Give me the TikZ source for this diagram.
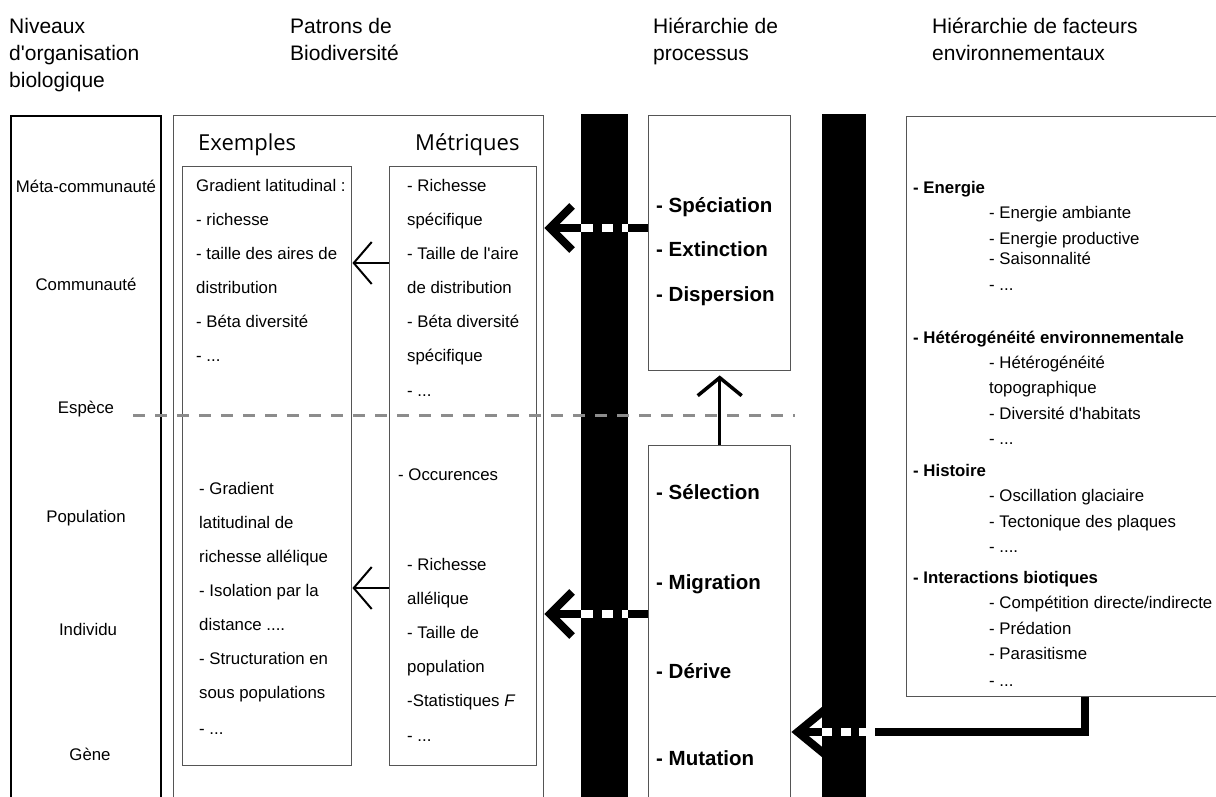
\documentclass[tikz,border=0pt]{standalone}
\usepackage{fontspec}
\setmainfont{Liberation Sans}[Ligatures=TeXOff]
\newfontfamily\hfont{Open Sans}
\usetikzlibrary{arrows.meta}
\definecolor{boxgrey}{HTML}{555555}
\definecolor{dashgrey}{HTML}{8C8C8C}
\tikzset{
  txt/.style={font=\fontsize{16.8}{20}\selectfont, inner sep=0pt, anchor=base west},
  ctxt/.style={font=\fontsize{16.8}{20}\selectfont, inner sep=0pt, anchor=base},
  btxt/.style={font=\fontsize{16.8}{20}\selectfont\bfseries, inner sep=0pt, anchor=base west},
  ptxt/.style={font=\fontsize{20.5}{24}\selectfont\bfseries, inner sep=0pt, anchor=base west},
  htxt/.style={font=\fontsize{21}{27}\selectfont, inner sep=0pt, anchor=base west},
  coltitle/.style={font=\hfont\fontsize{22}{26}\selectfont, inner sep=0pt, anchor=base west},
  box/.style={draw=boxgrey, line width=1.4pt, anchor=north west, inner sep=0pt},
  bar/.style={fill=black, draw=none, anchor=north west, inner sep=0pt},
  fatarrow/.style={line width=8pt, -{Straight Barb[length=22pt,width=44pt]}},
  thinarrow/.style={line width=2pt, -{Straight Barb[length=18pt,width=42pt]}},
  whitedash/.style={draw=white, line width=8pt},
}
\begin{document}
\begin{tikzpicture}[x=1pt,y=-1pt]
\useasboundingbox (0,0) rectangle (1216,796);
% boxes
\node[box, draw=black, line width=2pt, minimum width=150pt, minimum height=720pt] (lev) at (10,115) {};
\node[box, minimum width=370pt, minimum height=720pt] (pat) at (173,115) {};
\node[box, minimum width=169pt, minimum height=599pt] (exU) at (182,166) {};
\node[box, minimum width=147pt, minimum height=599pt] (met) at (389,166) {};
\node[bar, minimum width=47pt, minimum height=720pt] (bar1) at (581,114) {};
\node[box, minimum width=142pt, minimum height=255pt] (procU) at (648,115) {};
\node[box, minimum width=142pt, minimum height=400pt] (procL) at (648,445) {};
\node[bar, minimum width=44pt, minimum height=720pt] (bar2) at (822,114) {};
\node[box, minimum width=400pt, minimum height=580pt] (env) at (906,116) {};

% headers
\node[htxt] (h1a) at (9,33) {Niveaux};
\node[htxt] (h1b) at (9,60) {d'organisation};
\node[htxt] (h1c) at (9,87) {biologique};
\node[htxt] (h2a) at (290,33) {Patrons de};
\node[htxt] (h2b) at (290,60) {Biodiversité};
\node[htxt] (h3a) at (653,33) {Hiérarchie de};
\node[htxt] (h3b) at (653,60) {processus};
\node[htxt] (h4a) at (932,33) {Hiérarchie de facteurs};
\node[htxt] (h4b) at (932,60) {environnementaux};

% levels
\node[ctxt] (l1) at (86,192) {Méta-communauté};
\node[ctxt] (l2) at (86,290) {Communauté};
\node[ctxt] (l3) at (86,413) {Espèce};
\node[ctxt] (l4) at (86,522) {Population};
\node[ctxt] (l5) at (88,635) {Individu};
\node[ctxt] (l6) at (90,760) {Gène};

% column titles
\node[coltitle] (ct1) at (198,150) {Exemples};
\node[coltitle] (ct2) at (415,150) {Métriques};

% exemples upper
\node[txt] (e1) at (196,191) {Gradient latitudinal :};
\node[txt] (e2) at (196,225) {- richesse};
\node[txt] (e3) at (196,259) {- taille des aires de};
\node[txt] (e4) at (196,293) {distribution};
\node[txt] (e5) at (196,327) {- Béta diversité};
\node[txt] (e6) at (196,361) {- ...};
% exemples lower
\node[txt] (f1) at (199,494) {- Gradient};
\node[txt] (f2) at (199,528) {latitudinal de};
\node[txt] (f3) at (199,562) {richesse allélique};
\node[txt] (f4) at (199,596) {- Isolation par la};
\node[txt] (f5) at (199,630) {distance ....};
\node[txt] (f6) at (199,664) {- Structuration en};
\node[txt] (f7) at (199,698) {sous populations};
\node[txt] (f8) at (199,734) {- ...};

% metriques upper
\node[txt] (m1) at (407,191) {- Richesse};
\node[txt] (m2) at (407,225) {spécifique};
\node[txt] (m3) at (407,259) {- Taille de l'aire};
\node[txt] (m4) at (407,293) {de distribution};
\node[txt] (m5) at (407,327) {- Béta diversité};
\node[txt] (m6) at (407,361) {spécifique};
\node[txt] (m7) at (407,396) {- ...};
% metriques lower
\node[txt] (n0) at (398,480) {- Occurences};
\node[txt] (n1) at (407,570) {- Richesse};
\node[txt] (n2) at (407,604) {allélique};
\node[txt] (n3) at (407,638) {- Taille de};
\node[txt] (n4) at (407,672) {population};
\node[txt] (n5) at (407,706) {-Statistiques \textit{F}};
\node[txt] (n6) at (407,741) {- ...};

% processes
\node[ptxt] (p1) at (656,212) {- Spéciation};
\node[ptxt] (p2) at (656,256) {- Extinction};
\node[ptxt] (p3) at (656,301) {- Dispersion};
\node[ptxt] (q1) at (656,499) {- Sélection};
\node[ptxt] (q2) at (656,589) {- Migration};
\node[ptxt] (q3) at (656,678) {- Dérive};
\node[ptxt] (q4) at (656,765) {- Mutation};

% environment
\node[btxt] (g1) at (913,193) {- Energie};
\node[txt] (g1a) at (989,218) {- Energie ambiante};
\node[txt] (g1b) at (989,244) {- Energie productive};
\node[txt] (g1c) at (989,264) {- Saisonnalité};
\node[txt] (g1d) at (989,290) {- ...};
\node[btxt] (g2) at (913,343) {- Hétérogénéité environnementale};
\node[txt] (g2a) at (989,368) {- Hétérogénéité};
\node[txt] (g2b) at (989,393) {topographique};
\node[txt] (g2c) at (989,419) {- Diversité d'habitats};
\node[txt] (g2d) at (989,444) {- ...};
\node[btxt] (g3) at (913,476) {- Histoire};
\node[txt] (g3a) at (989,501) {- Oscillation glaciaire};
\node[txt] (g3b) at (989,527) {- Tectonique des plaques};
\node[txt] (g3c) at (989,552) {- ....};
\node[btxt] (g4) at (913,583) {- Interactions biotiques};
\node[txt] (g4a) at (989,608) {- Compétition directe/indirecte};
\node[txt] (g4b) at (989,634) {- Prédation};
\node[txt] (g4c) at (989,659) {- Parasitisme};
\node[txt] (g4d) at (989,686) {- ...};

% helper coordinates
\coordinate (yA) at (0,228);
\coordinate (yB) at (0,614);
\coordinate (yC) at (0,263);
\coordinate (yD) at (0,588);
\coordinate (eA) at (1085,732);
\coordinate (eGap) at (875,732);
\coordinate (dl) at (133,415);
\coordinate (dr) at (795,415);

% thin arrows metriques -> exemples
\draw[thinarrow] (met.west |- yC) -- (exU.east |- yC);
\draw[thinarrow] (met.west |- yD) -- (exU.east |- yD);

% up arrow
\draw[line width=3.5pt, -{Straight Barb[length=18pt,width=44pt]}, shorten >=4pt] (procL.north) -- (procU.south);

% thick arrows processes -> patterns
\draw[fatarrow] (procU.west |- yA) -- (pat.east |- yA);
\draw[whitedash, dash pattern=on 12pt off 9pt on 11pt off 9pt on 7pt] (bar1.west |- yA) -- (bar1.east |- yA);
\draw[fatarrow] (procL.west |- yB) -- (pat.east |- yB);
\draw[whitedash, dash pattern=on 12pt off 9pt on 11pt off 9pt on 7pt] (bar1.west |- yB) -- (bar1.east |- yB);

% environment -> processes
\draw[line width=8pt] (eA |- env.south) -- (eA) -- (eGap);
\draw[line width=8pt, -{Straight Barb[length=28pt,width=46pt]}] (bar2.east |- eA) -- (procL.east |- eA);
\draw[whitedash, dash pattern=on 10pt off 9pt on 10pt off 8pt on 17pt] (bar2.west |- eA) -- (eGap);

% species dashed line
\draw[dashgrey, line width=3pt, dash pattern=on 12pt off 10pt] (dl) -- (dr);
\end{tikzpicture}
\end{document}
